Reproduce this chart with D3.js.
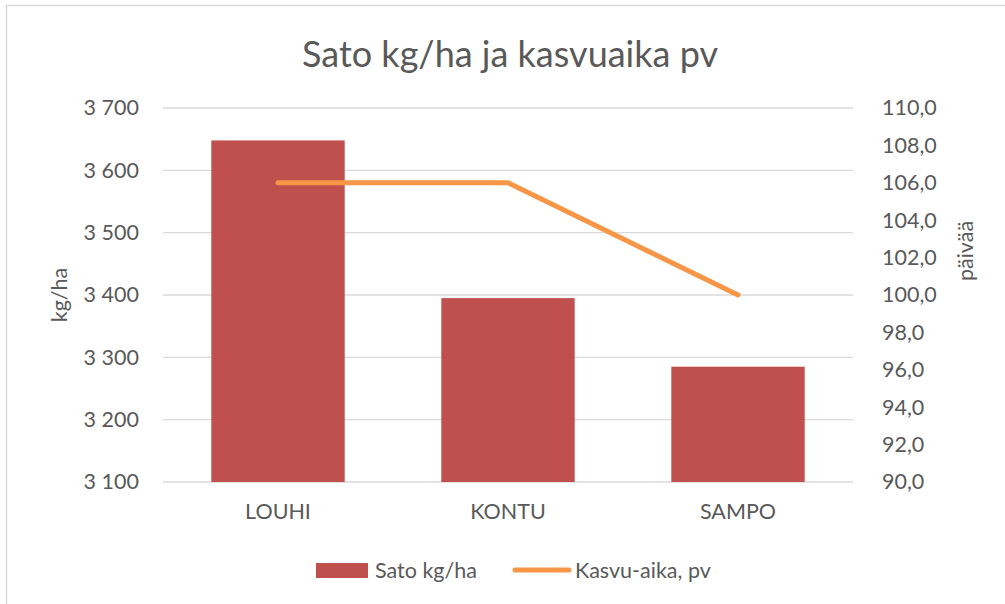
<!DOCTYPE html>
<html><head><meta charset="utf-8">
<script src="https://cdn.jsdelivr.net/npm/d3@7"></script>
<style>body{margin:0;background:#fff}svg{display:block}text{font-family:Lato,"Open Sans",sans-serif;fill:#595959}</style>
</head><body><svg id="c" width="1005" height="604"></svg>
<script>
const categories = ["LOUHI", "KONTU", "SAMPO"];
const satoValues = [3648, 3395, 3285];
const kasvuaikaValues = [106, 106, 100];
const leftTicks = [3100, 3200, 3300, 3400, 3500, 3600, 3700];
const rightTicks = [90, 92, 94, 96, 98, 100, 102, 104, 106, 108, 110];
const title = "Sato kg/ha ja kasvuaika pv";
const seriesNames = ["Sato kg/ha", "Kasvu-aika, pv"];

const svg = d3.select("#c");
const L = 163, R = 853, T = 108, B = 482;
svg.append("rect").attr("x", 6.5).attr("y", 5.5).attr("width", 1010).attr("height", 610)
  .attr("fill", "#fff").attr("stroke", "#d9d9d9").attr("stroke-width", 1.5);

const x = d3.scaleBand().domain(categories).range([L, R]).paddingInner(0.42).paddingOuter(0.21);
const yL = d3.scaleLinear().domain([3100, 3700]).range([B, T]);
const yR = d3.scaleLinear().domain([90, 110]).range([B, T]);

// gridlines
svg.append("g").selectAll("line").data(leftTicks).join("line")
  .attr("x1", L).attr("x2", R).attr("y1", d => yL(d)).attr("y2", d => yL(d))
  .attr("stroke", "#d9d9d9").attr("stroke-width", 1.3);

const fmtL = d => d3.format(",")(d).replace(/,/g, " ");
const fmtR = d => d3.format(".1f")(d).replace(".", ",");

const gl = svg.append("g").attr("transform", `translate(${L},0)`)
  .call(d3.axisLeft(yL).tickValues(leftTicks).tickFormat(fmtL).tickSize(0).tickPadding(24));
gl.select(".domain").remove();
gl.selectAll("text").style("font-size", "21.5px").attr("fill", "#595959").style("font-family", "Lato");

const gr = svg.append("g").attr("transform", `translate(${R},0)`)
  .call(d3.axisRight(yR).tickValues(rightTicks).tickFormat(fmtR).tickSize(0).tickPadding(29));
gr.select(".domain").remove();
gr.selectAll("text").style("font-size", "21.5px").attr("fill", "#595959").style("font-family", "Lato");

// bars
svg.append("g").selectAll("rect").data(categories).join("rect")
  .attr("x", d => x(d)).attr("width", x.bandwidth())
  .attr("y", (d, i) => yL(satoValues[i])).attr("height", (d, i) => B - yL(satoValues[i]))
  .attr("fill", "#C0504D");

// line
const line = d3.line().x((d, i) => x(categories[i]) + x.bandwidth() / 2).y(d => yR(d));
svg.append("path").datum(kasvuaikaValues).attr("d", line)
  .attr("fill", "none").attr("stroke", "#F79646").attr("stroke-width", 5)
  .attr("stroke-linecap", "round").attr("stroke-linejoin", "round");

// x axis labels
const gx = svg.append("g").attr("transform", `translate(0,${B})`)
  .call(d3.axisBottom(x).tickSize(0).tickPadding(22));
gx.select(".domain").remove();
gx.selectAll("text").style("font-size", "21.5px").attr("fill", "#595959").style("font-family", "Lato");

// title
svg.append("text").attr("x", 510).attr("y", 67).attr("text-anchor", "middle")
  .style("font-size", "36px").text(title);

// axis titles
svg.append("text").attr("transform", "translate(67,295) rotate(-90)").attr("text-anchor", "middle")
  .style("font-size", "21.5px").text("kg/ha");
svg.append("text").attr("transform", "translate(973,251) rotate(-90)").attr("text-anchor", "middle")
  .style("font-size", "21.5px").text("päivää");

// legend
svg.append("rect").attr("x", 316).attr("y", 563).attr("width", 52).attr("height", 15).attr("fill", "#C0504D");
svg.append("text").attr("x", 375).attr("y", 578).style("font-size", "21.5px").text(seriesNames[0]);
svg.append("line").attr("x1", 515).attr("x2", 569).attr("y1", 570).attr("y2", 570)
  .attr("stroke", "#F79646").attr("stroke-width", 5).attr("stroke-linecap", "round");
svg.append("text").attr("x", 575).attr("y", 578).style("font-size", "21.5px").text(seriesNames[1]);
</script></body></html>
